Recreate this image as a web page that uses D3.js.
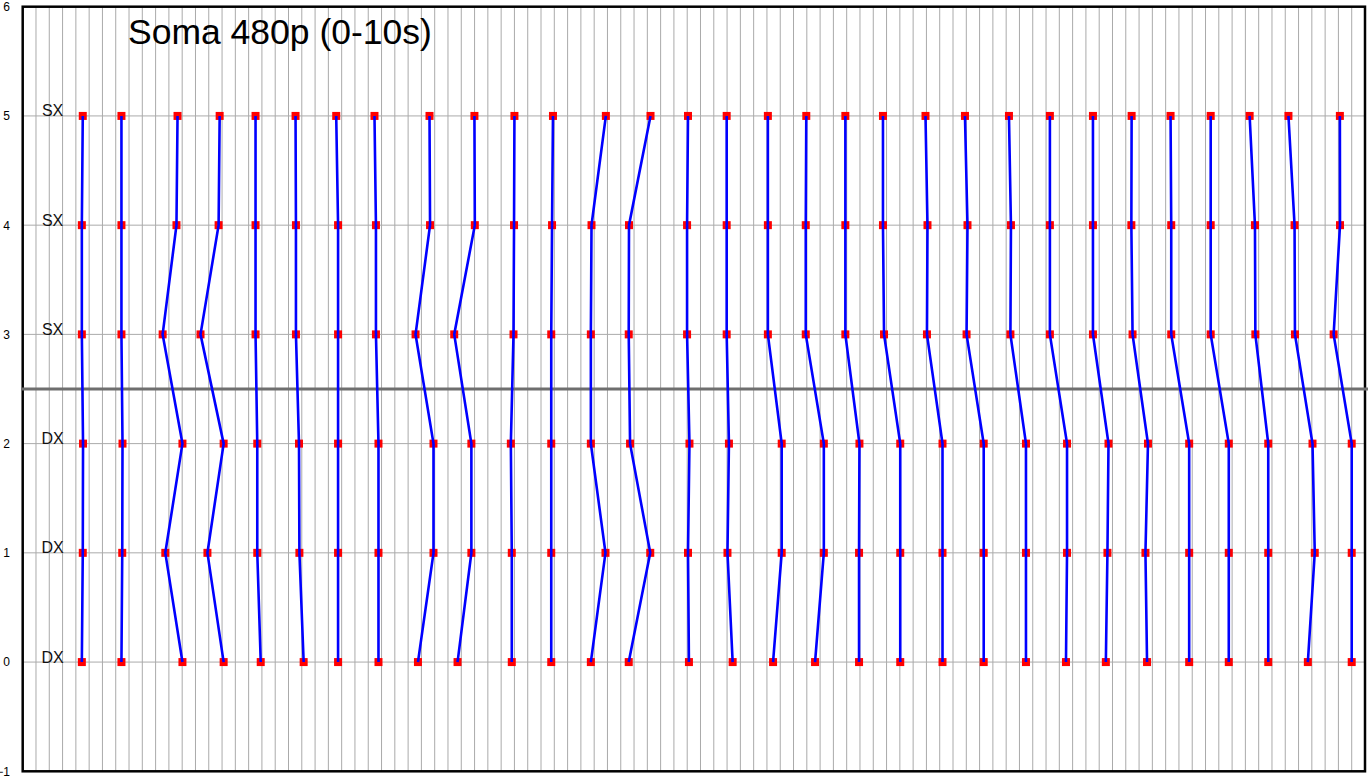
<!DOCTYPE html>
<html>
<head>
<meta charset="utf-8">
<script src="https://cdn.jsdelivr.net/npm/d3@7"></script>
<style>
  body { margin: 0; background: #fff; }
  svg { display: block; font-family: "Liberation Sans", Arial, sans-serif; }
</style>
</head>
<body>
<svg id="chart" width="1368" height="780"></svg>
<script>
// y levels and the side label of each one
var levels = [0, 1, 2, 3, 4, 5];
var sideLabels = ['DX', 'DX', 'DX', 'SX', 'SX', 'SX'];
var yTicks = [-1, 0, 1, 2, 3, 4, 5, 6];
var splitLevel = 2.5;
var title = 'Soma 480p (0-10s)';

// x position of each of the 31 tracks, one array per level
var xAt0 = [4.45, 7.43, 12.02, 15.12, 17.91, 21.14, 23.73, 26.77, 29.74, 32.72, 36.80, 39.77, 42.75, 45.60, 50.13, 53.42, 56.46, 59.62, 62.93, 66.03, 69.21, 72.31, 75.49, 78.50, 81.50, 84.60, 87.77, 90.75, 93.72, 96.70, 100.0];
var xAt1 = [4.52, 7.49, 10.73, 13.90, 17.65, 20.82, 23.73, 26.77, 30.91, 33.76, 36.80, 39.77, 43.85, 47.22, 50.06, 53.03, 57.11, 60.28, 62.93, 66.03, 69.21, 72.31, 75.49, 78.58, 81.62, 84.48, 87.77, 90.75, 93.72, 97.22, 100.0];
var xAt2 = [4.54, 7.51, 12.02, 15.12, 17.65, 20.79, 23.73, 26.77, 30.91, 33.76, 36.73, 39.77, 42.75, 45.70, 50.17, 53.14, 57.11, 60.28, 62.96, 66.03, 69.21, 72.31, 75.49, 78.58, 81.70, 84.67, 87.77, 90.75, 93.72, 97.05, 100.0];
var xAt3 = [4.45, 7.43, 10.53, 13.38, 17.52, 20.56, 23.73, 26.58, 29.56, 32.47, 36.93, 39.77, 42.75, 45.60, 49.99, 52.97, 56.07, 58.92, 61.90, 64.81, 68.04, 71.02, 74.32, 77.29, 80.53, 83.51, 86.42, 89.39, 92.75, 95.73, 98.64];
var xAt4 = [4.45, 7.43, 11.57, 14.74, 17.52, 20.56, 23.73, 26.58, 30.65, 34.02, 36.97, 39.83, 42.80, 45.62, 49.99, 52.97, 56.07, 58.92, 61.90, 64.73, 68.08, 71.09, 74.36, 77.29, 80.53, 83.42, 86.42, 89.39, 92.72, 95.70, 99.12];
var xAt5 = [4.52, 7.43, 11.65, 14.82, 17.52, 20.53, 23.59, 26.47, 30.61, 33.99, 37.00, 39.90, 43.88, 47.24, 50.06, 52.97, 56.07, 58.96, 61.90, 64.73, 67.93, 70.90, 74.21, 77.29, 80.53, 83.44, 86.37, 89.39, 92.32, 95.24, 99.11];

var xByLevel = [xAt0, xAt1, xAt2, xAt3, xAt4, xAt5];

var svg = d3.select('#chart');
var margin = {top: 6.7, right: 3, bottom: 8.7, left: 22.7};
var width = 1368, height = 780;

var x = d3.scaleLinear()
    .domain([0, 101])
    .range([margin.left, width - margin.right]);

var y = d3.scaleLinear()
    .domain([-1, 6])
    .range([height - margin.bottom, margin.top]);

// grid
svg.append('g')
    .selectAll('line')
    .data(d3.range(1, 101))
    .enter()
    .append('line')
    .attr('x1', function(d) { return x(d); })
    .attr('x2', function(d) { return x(d); })
    .attr('y1', y(6))
    .attr('y2', y(-1))
    .attr('stroke', '#aaaaaa')
    .attr('stroke-width', 1);

svg.append('g')
    .selectAll('line')
    .data(levels)
    .enter()
    .append('line')
    .attr('x1', x(0))
    .attr('x2', x(101))
    .attr('y1', function(d) { return y(d); })
    .attr('y2', function(d) { return y(d); })
    .attr('stroke', '#aaaaaa')
    .attr('stroke-width', 1);

// frame
svg.append('rect')
    .attr('x', x(0))
    .attr('y', y(6))
    .attr('width', x(101) - x(0))
    .attr('height', y(-1) - y(6))
    .attr('fill', 'none')
    .attr('stroke', '#000')
    .attr('stroke-width', 2.5);

// split line between SX and DX
svg.append('line')
    .attr('x1', x(0) - 1)
    .attr('x2', width)
    .attr('y1', y(splitLevel))
    .attr('y2', y(splitLevel))
    .attr('stroke', '#6e6e6e')
    .attr('stroke-width', 3);

// y axis labels
var yAxis = d3.axisLeft(y)
    .tickValues(yTicks)
    .tickSize(0)
    .tickPadding(margin.left - 10)
    .tickFormat(d3.format('d'));

svg.append('g')
    .attr('transform', 'translate(' + margin.left + ',0)')
    .call(yAxis)
    .call(function(g) { g.select('.domain').remove(); })
    .selectAll('text')
    .attr('font-size', 12)
    .attr('font-family', '"Liberation Sans", Arial, sans-serif')
    .attr('fill', '#000');

// SX / DX labels
svg.append('g')
    .selectAll('text')
    .data(levels)
    .enter()
    .append('text')
    .attr('x', x(2.25))
    .attr('y', function(d) { return y(d) + 0.5; })
    .attr('text-anchor', 'middle')
    .attr('font-size', 16)
    .attr('fill', '#111')
    .text(function(d, i) { return sideLabels[i]; });

// title
svg.append('text')
    .attr('x', 128)
    .attr('y', 43.5)
    .attr('font-size', 35.5)
    .attr('fill', '#000')
    .text(title);

// tracks
var tracks = xAt0.map(function(_, t) {
    return levels.map(function(lv, i) { return {x: xByLevel[i][t], y: lv}; });
});

var points = [];
tracks.forEach(function(tr) { tr.forEach(function(p) { points.push(p); }); });

svg.append('g')
    .selectAll('rect')
    .data(points)
    .enter()
    .append('rect')
    .attr('x', function(d) { return x(d.x) - 4; })
    .attr('y', function(d) { return y(d.y) - 4; })
    .attr('width', 8)
    .attr('height', 8)
    .attr('fill', '#ff0000');

var line = d3.line()
    .x(function(d) { return x(d.x); })
    .y(function(d) { return y(d.y); });

svg.append('g')
    .selectAll('path')
    .data(tracks)
    .enter()
    .append('path')
    .attr('d', line)
    .attr('fill', 'none')
    .attr('stroke', '#0000ff')
    .attr('stroke-width', 2.6);
</script>
</body>
</html>
